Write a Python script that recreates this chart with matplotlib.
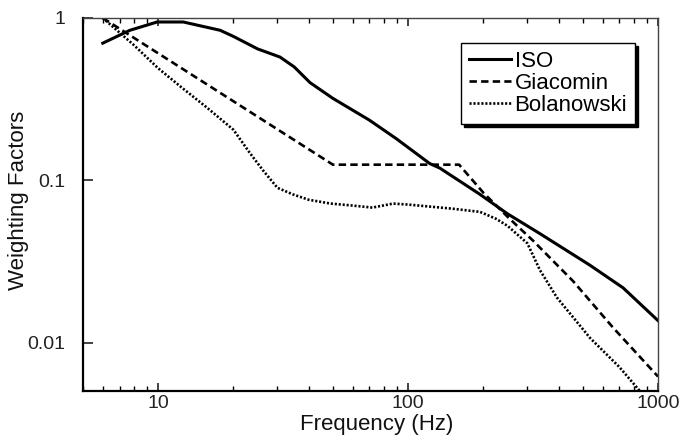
import matplotlib
matplotlib.use("Agg")
import matplotlib.pyplot as plt
from matplotlib.ticker import FixedLocator, FixedFormatter, LogLocator, NullFormatter, NullLocator

plt.rcParams['font.family'] = ['Liberation Sans', 'DejaVu Sans']

iso_f = [6, 7.7, 9.9, 12.6, 17.7, 20, 25, 30.7, 35, 40.5, 50, 70, 90, 122, 134, 194, 249, 337, 535, 725, 1000]
iso_w = [0.70, 0.84, 0.945, 0.945, 0.84, 0.77, 0.645, 0.575, 0.50, 0.40, 0.32, 0.235, 0.18, 0.127, 0.119, 0.082, 0.0625, 0.047, 0.030, 0.0218, 0.0137]

gia_f = [6.0, 50, 160, 200, 252, 316, 457, 661, 1000]
gia_w = [1.0, 0.125, 0.125, 0.084, 0.059, 0.0426, 0.024, 0.0124, 0.0062]

bol_f = [6, 8, 10, 12.5, 15.7, 20, 23.3, 26.3, 30, 34.6, 40, 49, 60, 72, 87, 100, 122, 150, 194, 225, 250, 300, 337, 394, 535, 700, 870]
bol_w = [1.0, 0.68, 0.49, 0.37, 0.28, 0.205, 0.147, 0.115, 0.09, 0.082, 0.076, 0.072, 0.070, 0.068, 0.072, 0.071, 0.069, 0.067, 0.064, 0.058, 0.0525, 0.041, 0.028, 0.019, 0.0107, 0.0071, 0.0048]

x_ticks = [10, 100, 1000]
x_labels = ["10", "100", "1000"]
y_ticks = [0.01, 0.1, 1]
y_labels = ["0.01", "0.1", "1"]

fig = plt.figure(figsize=(6.82, 4.45), dpi=100)
ax = fig.add_axes([83/682, 1-391/445, (658-83)/682, (391-18)/445])

ax.plot(iso_f, iso_w, color='black', lw=2.2, ls='-', label='ISO')
ax.plot(gia_f, gia_w, color='black', lw=1.9, ls=(0, (2.8, 1.6)), label='Giacomin')
ax.plot(bol_f, bol_w, color='black', lw=1.9, ls=(0, (0.8, 0.7)), label='Bolanowski')

ax.set_xscale('log')
ax.set_yscale('log')
ax.set_xlim(5, 1000)
ax.set_ylim(0.00505, 1)

ax.xaxis.set_major_locator(FixedLocator(x_ticks))
ax.xaxis.set_major_formatter(FixedFormatter(x_labels))
ax.xaxis.set_minor_locator(LogLocator(base=10, subs=range(2, 10)))
ax.xaxis.set_minor_formatter(NullFormatter())
ax.yaxis.set_major_locator(FixedLocator(y_ticks))
ax.yaxis.set_major_formatter(FixedFormatter(y_labels))
ax.yaxis.set_minor_locator(NullLocator())

ax.tick_params(axis='x', which='major', direction='in', length=6, width=1.2, top=True, labelsize=14, pad=3, colors='#222222')
ax.tick_params(axis='x', which='minor', direction='in', length=3.5, width=1.0, top=True)
ax.tick_params(axis='y', which='major', direction='in', length=7, width=1.2, right=False, labelsize=14, pad=13, colors='#222222')

for s in ['left', 'bottom']:
    ax.spines[s].set_linewidth(1.6)
for s in ['top', 'right']:
    ax.spines[s].set_linewidth(1.0)
    ax.spines[s].set_color('#444444')

ax.set_xlabel('Frequency (Hz)', fontsize=16, color='#111111', va='center')
ax.set_ylabel('Weighting Factors', fontsize=16, color='#111111', va='center')
ax.xaxis.set_label_coords(0.51, -0.09)
ax.yaxis.set_label_coords(-0.113, 0.51)

leg = ax.legend(loc='upper right', bbox_to_anchor=(0.96, 0.933), borderaxespad=0,
                fontsize=16, handlelength=1.9, handletextpad=0.15, labelspacing=0.05,
                borderpad=0.35, fancybox=False, frameon=True,
                shadow={'color': 'black', 'alpha': 1})
leg.get_frame().set_edgecolor('black')
leg.get_frame().set_linewidth(1.0)

fig.savefig('out.png', dpi=100)
